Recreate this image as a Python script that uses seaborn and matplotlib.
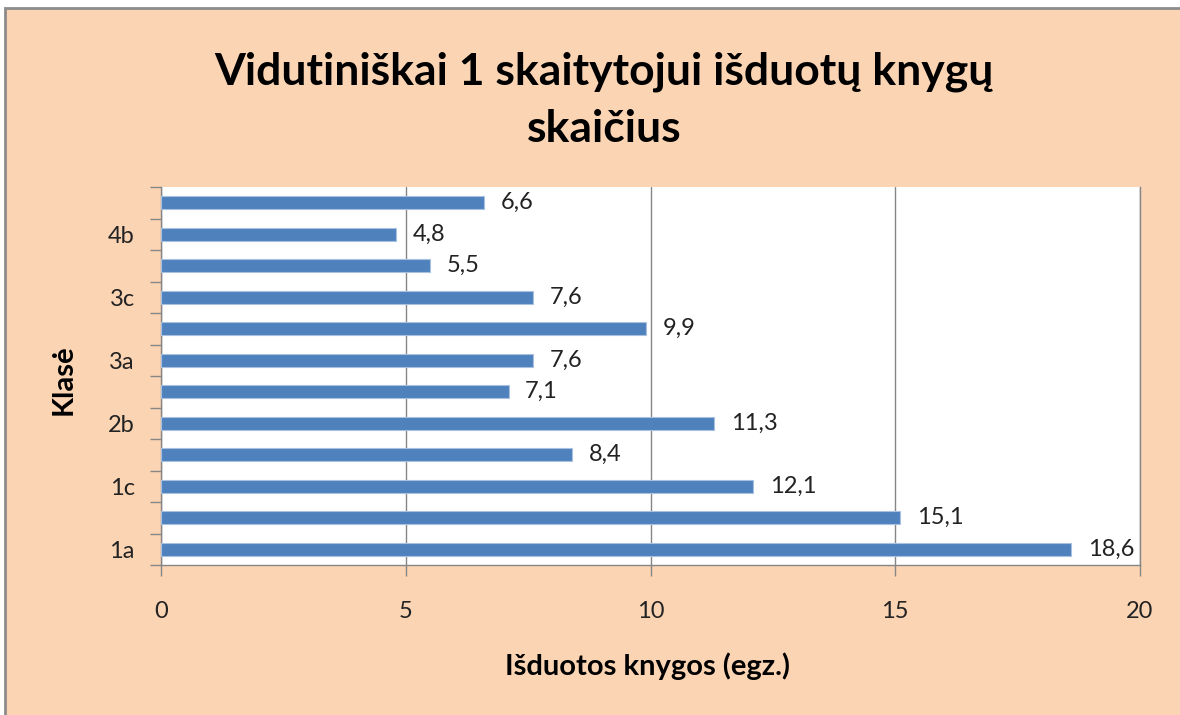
import matplotlib
matplotlib.use("Agg")
import matplotlib.pyplot as plt
import numpy as np
import pandas as pd
import seaborn as sns
from matplotlib.patches import Rectangle
from matplotlib.ticker import FixedLocator

# duomenys (iš apačios į viršų)
KLASES = ["1a", "1b", "1c", "2a", "2b", "2c", "3a", "3b", "3c", "4a", "4b", "4c"]
KNYGOS = [18.6, 15.1, 12.1, 8.4, 11.3, 7.1, 7.6, 9.9, 7.6, 5.5, 4.8, 6.6]
RODOMOS = ["1a", "1c", "2b", "3a", "3c", "4b"]
X_TICKS = [0, 5, 10, 15, 20]

TITLE = "Vidutiniškai 1 skaitytojui išduotų knygų\nskaičius"
XLABEL = "Išduotos knygos (egz.)"
YLABEL = "Klasė"

PEACH = "#FBD4B4"
BAR = "#4F81BD"
GRID = "#868686"

sns.set_theme(style="white")
plt.rcParams["font.family"] = ["Lato", "DejaVu Sans"]

fig = plt.figure(figsize=(11.8, 7.15), dpi=100, facecolor="white")
fig.patches.append(
    Rectangle((5 / 1180, -0.05), 1.1, 1.05 - 8 / 715, transform=fig.transFigure,
              facecolor=PEACH, edgecolor="#8C8C8C", linewidth=2, zorder=-10)
)

ax = fig.add_axes([161 / 1180, 1 - 565 / 715, 979 / 1180, 378 / 715])
ax.set_facecolor("white")

df = pd.DataFrame({"klase": KLASES, "knygos": KNYGOS})
sns.barplot(data=df, x="knygos", y="klase", order=KLASES, orient="h",
            color=BAR, width=0.42, saturation=1, edgecolor="#A9C1E0",
            linewidth=0.8, ax=ax, zorder=3)

ax.set_ylim(-0.5, len(KLASES) - 0.5)
ax.set_xlim(0, 20)

ax.bar_label(ax.containers[0], labels=[f"{v:.1f}".replace(".", ",") for v in KNYGOS],
             padding=12, fontsize=17, color="#222222")

# ašys
pos = np.arange(len(KLASES))
ax.set_yticks(pos)
ax.set_yticklabels([k if k in RODOMOS else "" for k in KLASES], fontsize=17, color="#222222")
ax.yaxis.set_minor_locator(FixedLocator(np.arange(-0.5, len(KLASES), 1.0)))
ax.tick_params(axis="y", which="major", length=0, pad=19)
ax.tick_params(axis="y", which="minor", left=True, length=8, width=1, color=GRID, direction="out")

ax.set_xticks(X_TICKS)
ax.set_xticklabels([str(t) for t in X_TICKS], fontsize=17, color="#222222")
ax.tick_params(axis="x", which="major", bottom=True, length=8, width=1, color=GRID,
               direction="out", pad=18)

ax.grid(axis="x", color=GRID, linewidth=1, zorder=0)
ax.set_axisbelow(True)
for side in ["left", "bottom", "right"]:
    ax.spines[side].set_color(GRID)
    ax.spines[side].set_linewidth(1)
ax.spines["top"].set_visible(False)

ax.set_xlabel(XLABEL, fontsize=21, fontweight="bold", color="black")
ax.xaxis.set_label_coords(0.497, -0.23)
ax.set_ylabel(YLABEL, fontsize=21, fontweight="bold", color="black")
ax.yaxis.set_label_coords(-0.086, 0.49)

fig.text(0.512, 1 - 100 / 715, TITLE, ha="center", va="center", fontsize=32,
         fontweight="bold", linespacing=1.5, color="black")

fig.savefig("out.png", dpi=100, facecolor=fig.get_facecolor())
